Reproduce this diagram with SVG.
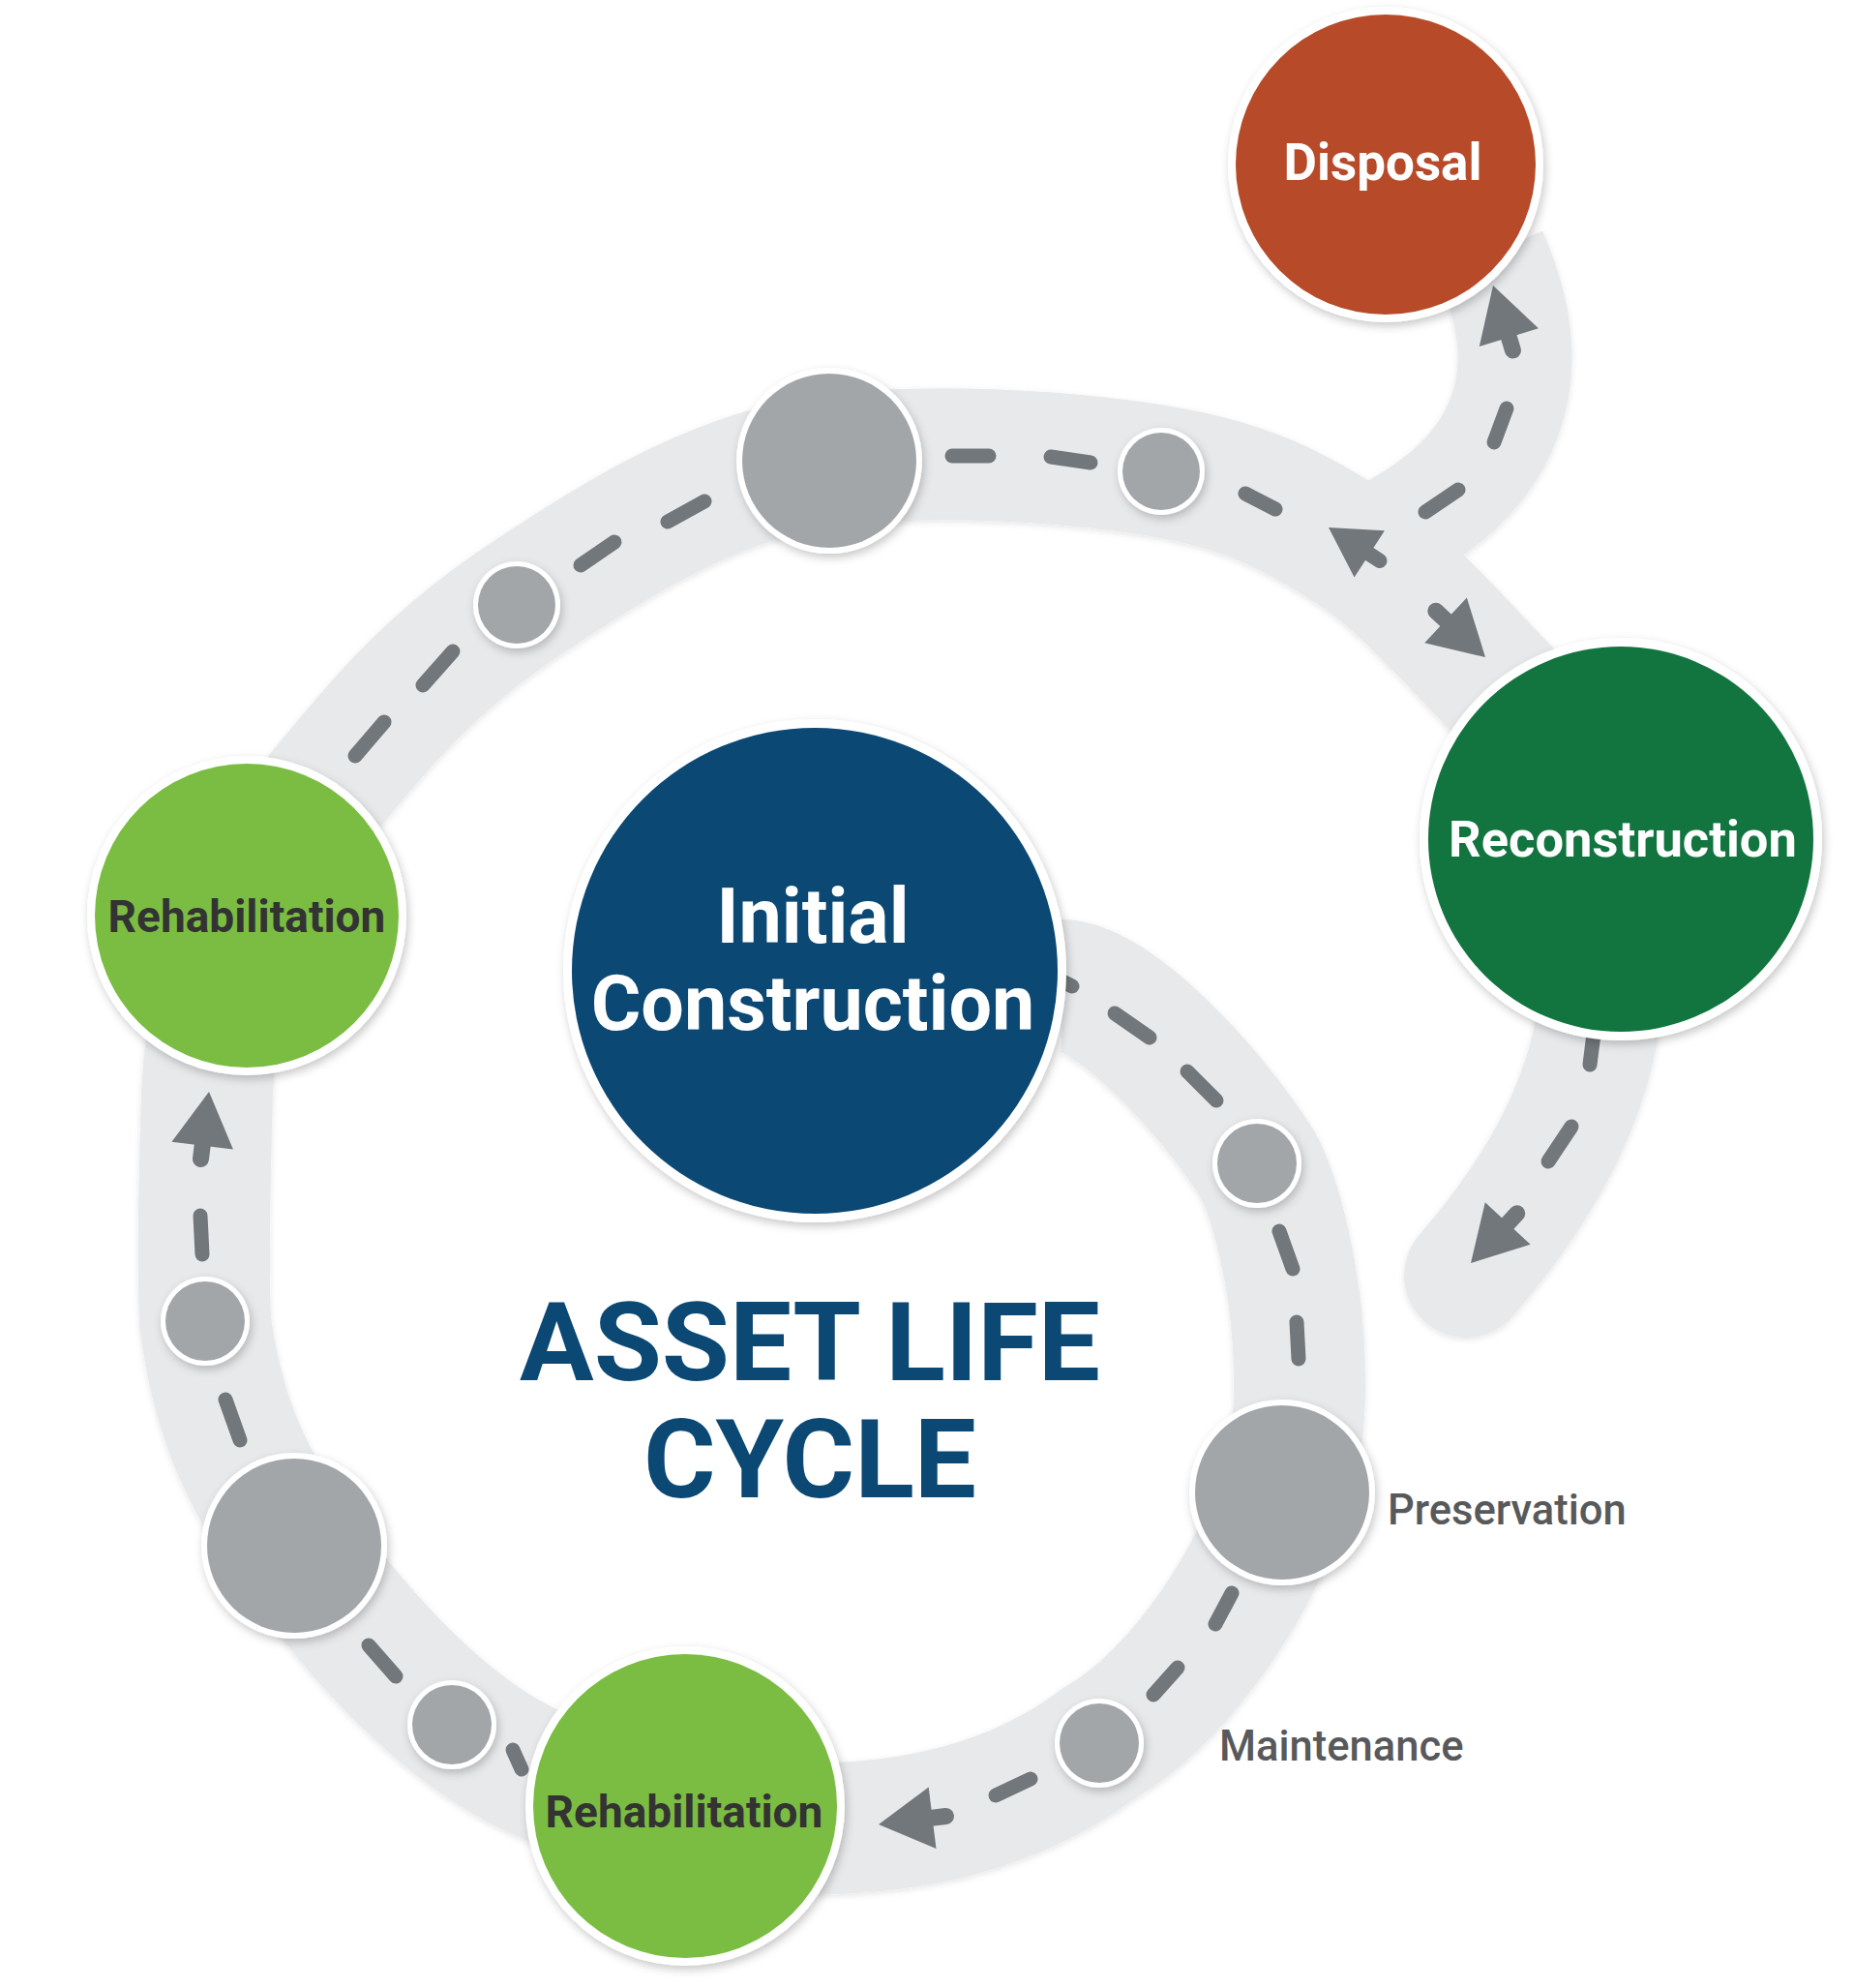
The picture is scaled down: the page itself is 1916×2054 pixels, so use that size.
<svg xmlns="http://www.w3.org/2000/svg" xmlns:xlink="http://www.w3.org/1999/xlink" width="1916" height="2054" viewBox="0 0 1916 2054">
<style>
.road{fill:none;stroke:#e8e9eb;stroke-linejoin:round}
.dash{stroke:#72777b;stroke-width:15;stroke-linecap:round;fill:none}
.arrow{fill:#72777b}
.ring{fill:#ffffff}
.wp{fill:#a3a6a9}
.lbl{font-family:Roboto,"Liberation Sans",sans-serif;font-weight:700;text-anchor:middle}
.side{font-family:Roboto,"Liberation Sans",sans-serif;font-weight:500;fill:#58595b;font-size:43.5px}
</style>
<defs>
<filter id="sh" x="-20%" y="-20%" width="140%" height="140%">
<feDropShadow dx="2" dy="4" stdDeviation="5" flood-color="#000" flood-opacity="0.22"/>
</filter>
<filter id="rsh" x="-10%" y="-10%" width="120%" height="120%">
<feDropShadow dx="0" dy="2" stdDeviation="3" flood-color="#000" flood-opacity="0.10"/>
</filter>
<g id="arr">
<path class="arrow" d="M0,0 L-56,-32 L-56,32 Z"/>
<line x1="-50" y1="0" x2="-70" y2="0" stroke="#72777b" stroke-width="17" stroke-linecap="round"/>
</g>
</defs>
<rect width="1916" height="2054" fill="#ffffff"/>

<g id="connectors">
<g filter="url(#rsh)">
<path class="road" stroke-width="136" stroke-linecap="butt" d="M1097,1018 C1150,1018 1250,1125 1299,1202 C1320,1240 1338,1320 1342,1390 C1344,1440 1345,1490 1325,1542 C1305,1620 1225,1750 1136,1801 C1059,1859 965,1885 865,1889 C765,1893 630,1872 537,1823 C443,1774 358,1673 304,1597 C250,1521 224,1456 212,1365 C209,1290 212,1200 214,1130 C217,1063 233,988 262,930 C293,867 336,815 382,762 C426,710 478,663 534,625 C632,559 741,490 857,476 C966,462 1110,472 1200,487 C1290,502 1340,529 1400,568 C1460,607 1533,695 1560,720"/>
<path class="road" stroke-width="118" stroke-linecap="butt" d="M1390,572 C1460,545 1530,500 1555,430 C1575,375 1565,320 1540,262"/>
<path class="road" stroke-width="128" stroke-linecap="round" d="M1655,1020 C1650,1120 1600,1220 1515,1318"/>
</g>
<g id="dashes">
<line class="dash" x1="367" y1="781" x2="397" y2="746"/>
<line class="dash" x1="437" y1="708" x2="468" y2="673"/>
<line class="dash" x1="600" y1="584" x2="635" y2="560"/>
<line class="dash" x1="690" y1="539" x2="728" y2="518"/>
<line class="dash" x1="984" y1="471" x2="1022" y2="471"/>
<line class="dash" x1="1086" y1="472" x2="1127" y2="478"/>
<line class="dash" x1="1287" y1="510" x2="1318" y2="526"/>
<line class="dash" x1="1473" y1="529" x2="1507" y2="506"/>
<line class="dash" x1="1544" y1="457" x2="1557" y2="422"/>
<line class="dash" x1="1090" y1="1010" x2="1108" y2="1019"/>
<line class="dash" x1="1152" y1="1047" x2="1188" y2="1072"/>
<line class="dash" x1="1227" y1="1107" x2="1257" y2="1137"/>
<line class="dash" x1="1322" y1="1272" x2="1336" y2="1311"/>
<line class="dash" x1="1340" y1="1366" x2="1342" y2="1404"/>
<line class="dash" x1="1273" y1="1646" x2="1256" y2="1678"/>
<line class="dash" x1="1217" y1="1723" x2="1192" y2="1751"/>
<line class="dash" x1="1065" y1="1838" x2="1029" y2="1855"/>
<line class="dash" x1="530" y1="1808" x2="539" y2="1828"/>
<line class="dash" x1="381" y1="1700" x2="409" y2="1732"/>
<line class="dash" x1="233" y1="1446" x2="248" y2="1488"/>
<line class="dash" x1="207" y1="1256" x2="209" y2="1296"/>
<line class="dash" x1="1648" y1="1060" x2="1643" y2="1100"/>
<line class="dash" x1="1624" y1="1164" x2="1600" y2="1200"/>
</g>
<g id="arrows">
<use xlink:href="#arr" href="#arr" transform="translate(908,1885) rotate(173)"/>
<use xlink:href="#arr" href="#arr" transform="translate(216,1128) rotate(-83)"/>
<use xlink:href="#arr" href="#arr" transform="translate(1373,545) rotate(-147) scale(0.9)"/>
<use xlink:href="#arr" href="#arr" transform="translate(1535,679) rotate(43)"/>
<use xlink:href="#arr" href="#arr" transform="translate(1543,295) rotate(-107)"/>
<use xlink:href="#arr" href="#arr" transform="translate(1520,1305) rotate(133)"/>
</g>
</g>

<g id="waypoint-1"><circle class="ring" cx="857" cy="476" r="96" filter="url(#sh)"/><circle class="wp" cx="857" cy="476" r="90"/></g>
<g id="waypoint-2"><circle class="ring" cx="1200" cy="487" r="45" filter="url(#sh)"/><circle class="wp" cx="1200" cy="487" r="40"/></g>
<g id="waypoint-3"><circle class="ring" cx="534" cy="625" r="45" filter="url(#sh)"/><circle class="wp" cx="534" cy="625" r="40"/></g>
<g id="waypoint-4"><circle class="ring" cx="1299" cy="1202" r="46" filter="url(#sh)"/><circle class="wp" cx="1299" cy="1202" r="41"/></g>
<g id="preservation"><circle class="ring" cx="1325" cy="1542" r="96" filter="url(#sh)"/><circle class="wp" cx="1325" cy="1542" r="90"/><text class="side" x="1434" y="1575">Preservation</text></g>
<g id="maintenance"><circle class="ring" cx="1136" cy="1801" r="46" filter="url(#sh)"/><circle class="wp" cx="1136" cy="1801" r="41"/><text class="side" x="1260" y="1819">Maintenance</text></g>
<g id="waypoint-5"><circle class="ring" cx="467" cy="1782" r="46" filter="url(#sh)"/><circle class="wp" cx="467" cy="1782" r="41"/></g>
<g id="waypoint-6"><circle class="ring" cx="304" cy="1597" r="96" filter="url(#sh)"/><circle class="wp" cx="304" cy="1597" r="90"/></g>
<g id="waypoint-7"><circle class="ring" cx="212" cy="1365" r="46" filter="url(#sh)"/><circle class="wp" cx="212" cy="1365" r="41"/></g>

<g id="disposal"><circle class="ring" cx="1432" cy="170" r="163" filter="url(#sh)"/><circle cx="1432" cy="170" r="155" fill="#b74b29"/><text class="lbl" x="1429" y="186" font-size="53" fill="#ffffff">Disposal</text></g>
<g id="reconstruction"><circle class="ring" cx="1675" cy="867" r="208" filter="url(#sh)"/><circle cx="1675" cy="867" r="199" fill="#12753f"/><text class="lbl" x="1677" y="885" font-size="52.5" fill="#ffffff">Reconstruction</text></g>
<g id="initial-construction"><circle class="ring" cx="842" cy="1003" r="260" filter="url(#sh)"/><circle cx="842" cy="1003" r="251" fill="#0b4873"/><text class="lbl" x="840" y="974" font-size="79" fill="#ffffff">Initial</text><text class="lbl" x="840" y="1064" font-size="79" fill="#ffffff">Construction</text></g>
<g id="rehabilitation-left"><circle class="ring" cx="255" cy="946" r="165" filter="url(#sh)"/><circle cx="255" cy="946" r="157" fill="#7bbd42"/><text class="lbl" x="255" y="963" font-size="46" fill="#333333">Rehabilitation</text></g>
<g id="rehabilitation-bottom"><circle class="ring" cx="708" cy="1866" r="165" filter="url(#sh)"/><circle cx="708" cy="1866" r="157" fill="#7bbd42"/><text class="lbl" x="707" y="1888" font-size="46" fill="#333333">Rehabilitation</text></g>
<g id="title"><text class="lbl" x="837" y="1426" font-size="114" fill="#0b4873">ASSET LIFE</text><text class="lbl" x="837" y="1547" font-size="114" fill="#0b4873">CYCLE</text></g>
</svg>
